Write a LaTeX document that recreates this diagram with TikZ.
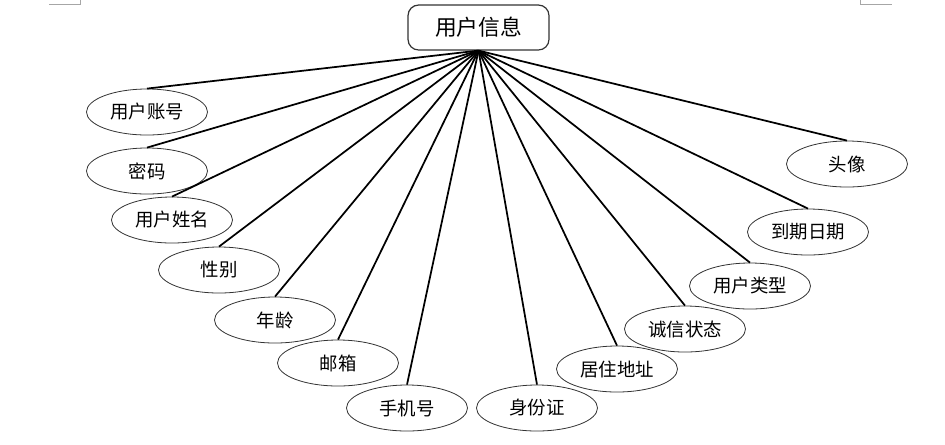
\documentclass[tikz,border=0pt]{standalone}
\usepackage{fontspec}
\newfontfamily\cjk{Noto Sans CJK SC}
\usetikzlibrary{shapes.geometric}
\begin{document}
\begin{tikzpicture}[x=0.75pt,y=-0.75pt,
  attr/.style={ellipse,draw=black!80,line width=0.6pt,fill=white,minimum width=90.75pt,minimum height=34.5pt,inner sep=0pt,font=\cjk\fontsize{13.8pt}{15pt}\selectfont},
  entity/.style={draw=black!80,line width=0.9pt,rounded corners=8pt,fill=white,minimum width=105.75pt,minimum height=33.75pt,inner sep=0pt,font=\cjk\fontsize{16.3pt}{18pt}\selectfont},
  link/.style={line width=1.3pt,black},
  cornermark/.style={gray!70,line width=0.5pt}]
\useasboundingbox (0,0) rectangle (945,444);
% page corner marks
\draw[cornermark] (49,4) -- (80,4) -- (80,0);
\draw[cornermark] (860,0) -- (860,4) -- (892,4);
\node[entity] (u) at (478.5,27.5) {用户信息};
\node[attr] (a1) at (147,112) {用户账号};
\node[attr] (a2) at (147,171) {密码};
\node[attr] (a3) at (172,220) {用户姓名};
\node[attr] (a4) at (219,270) {性别};
\node[attr] (a5) at (275,320) {年龄};
\node[attr] (a6) at (338,363) {邮箱};
\node[attr] (a7) at (407,408) {手机号};
\node[attr] (a8) at (537,408) {身份证};
\node[attr] (a9) at (617,369) {居住地址};
\node[attr] (a10) at (685,329) {诚信状态};
\node[attr] (a11) at (750,286) {用户类型};
\node[attr] (a12) at (808,232) {到期日期};
\node[attr] (a13) at (847,164) {头像};
\foreach \i in {1,...,13} \draw[link] (u.south) -- (a\i.north);
\end{tikzpicture}
\end{document}
